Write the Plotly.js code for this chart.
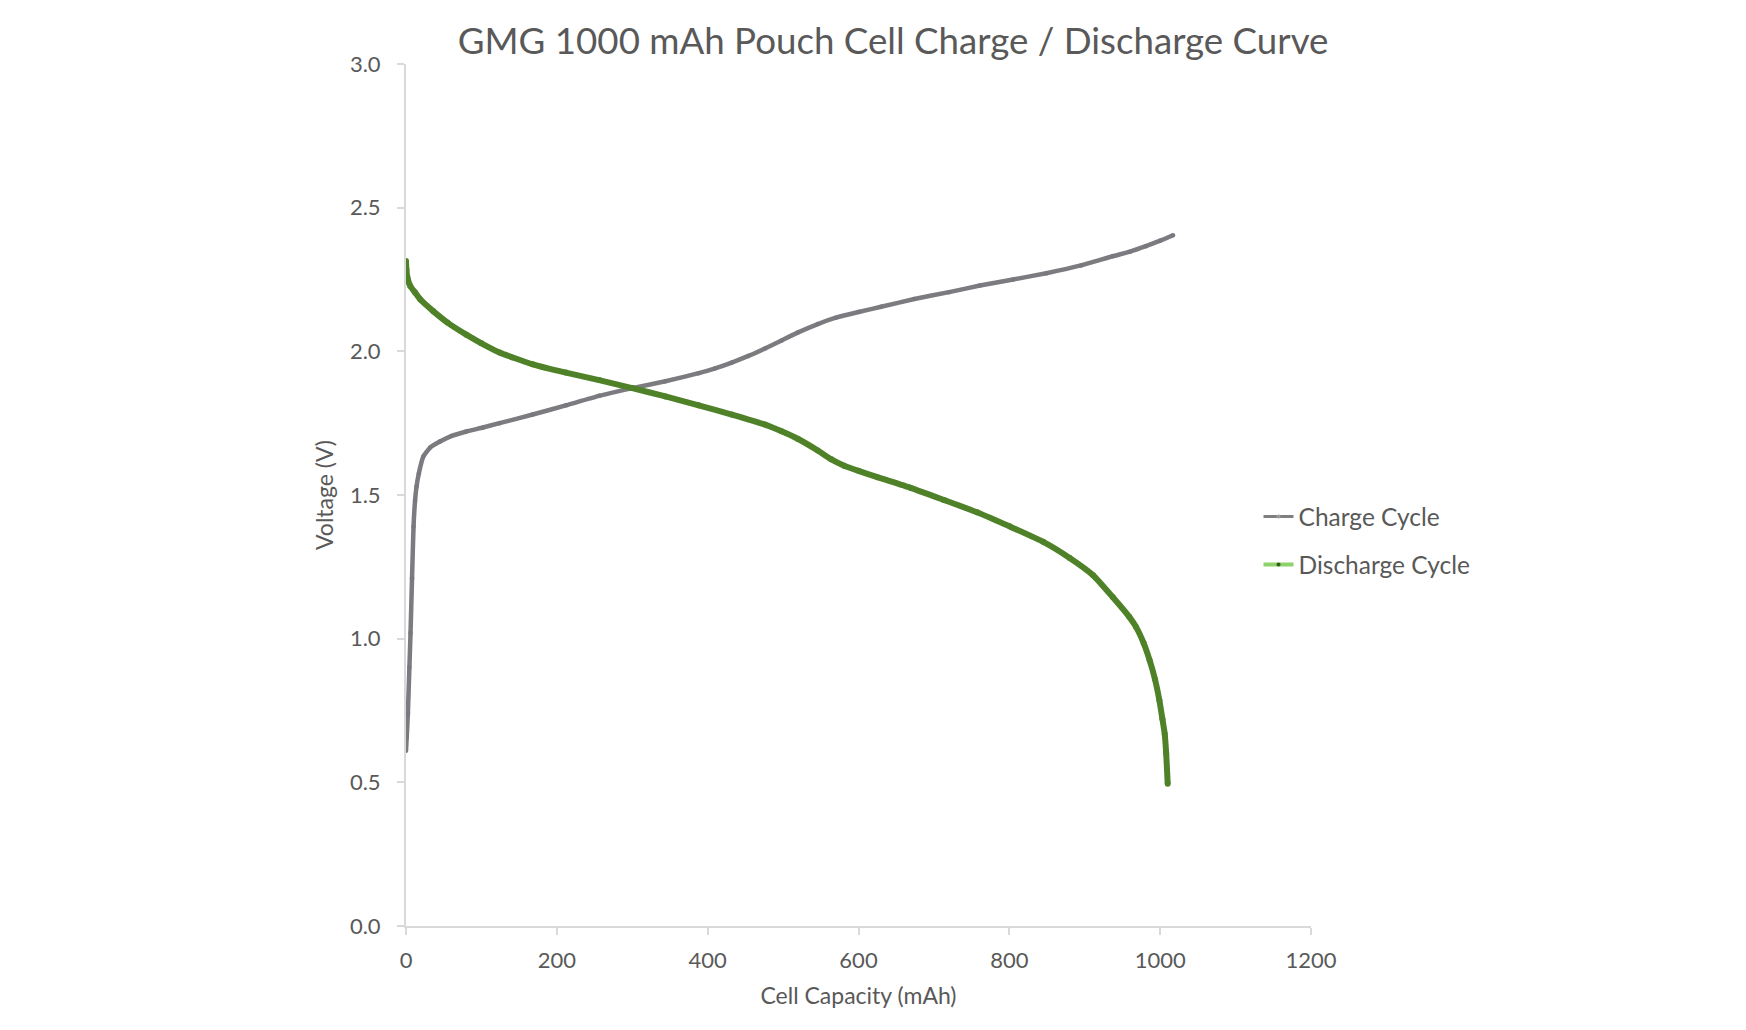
<!DOCTYPE html>
<html>
<head>
<meta charset="utf-8">
<script src="https://cdn.plot.ly/plotly-3.0.1.min.js"></script>
<style>html,body{margin:0;padding:0;background:#fff;}</style>
</head>
<body>
<div id="chart" style="width:1746px;height:1030px;"></div>
<script>
// Charge cycle: capacity (mAh) vs voltage (V)
const chargeCapacity = [0, 1, 2.5, 4.5, 6, 8, 10, 12, 14, 17, 23, 32, 45, 60, 80, 102, 124, 168, 212, 256, 300, 344, 388, 410, 432, 454, 476, 498, 520, 546, 570, 600, 630, 674, 720, 761, 805, 849, 895, 937, 960, 981, 1000, 1017];
const chargeVoltage  = [0.61, 0.66, 0.74, 0.90, 1.02, 1.21, 1.39, 1.48, 1.53, 1.575, 1.634, 1.665, 1.686, 1.705, 1.721, 1.735, 1.750, 1.780, 1.812, 1.845, 1.872, 1.896, 1.924, 1.941, 1.961, 1.984, 2.010, 2.038, 2.066, 2.095, 2.117, 2.137, 2.155, 2.182, 2.206, 2.229, 2.250, 2.272, 2.299, 2.331, 2.347, 2.366, 2.385, 2.404];

// Discharge cycle: capacity (mAh) vs voltage (V)
const dischargeCapacity = [0, 0.5, 2, 5.7, 12, 19, 36, 55, 80, 100, 124, 168, 212, 256, 300, 344, 388, 432, 476, 498, 520, 546, 564, 581, 600, 625, 669, 713, 757, 801, 845, 880, 911, 937, 959, 968, 978, 986, 993, 999, 1003, 1006, 1008, 1010];
const dischargeVoltage  = [2.314, 2.285, 2.255, 2.227, 2.205, 2.18, 2.14, 2.10, 2.058, 2.028, 1.996, 1.955, 1.926, 1.900, 1.872, 1.843, 1.812, 1.780, 1.745, 1.722, 1.695, 1.655, 1.624, 1.602, 1.584, 1.562, 1.525, 1.483, 1.440, 1.390, 1.337, 1.281, 1.221, 1.145, 1.076, 1.041, 0.985, 0.925, 0.86, 0.785, 0.72, 0.669, 0.60, 0.495];

// Axis ticks
const xTicks = [0, 200, 400, 600, 800, 1000, 1200];
const yTicks = [0, 0.5, 1.0, 1.5, 2.0, 2.5, 3.0];
const yTickLabels = ["0.0", "0.5", "1.0", "1.5", "2.0", "2.5", "3.0"];

const FONT = "Lato, 'Open Sans', sans-serif";
const TEXT = "#595959";

const traces = [
  {
    name: "Charge Cycle", x: chargeCapacity, y: chargeVoltage,
    type: "scatter", mode: "lines+markers",
    line: {color: "#7b7b80", width: 4.5, shape: "spline", smoothing: 0.5},
    marker: {color: "#77797f", size: 4.5},
    showlegend: false, legendgroup: "c", hoverinfo: "x+y"
  },
  {
    name: "Discharge Cycle", x: dischargeCapacity, y: dischargeVoltage,
    type: "scatter", mode: "lines+markers",
    line: {color: "#4f8228", width: 6, shape: "spline", smoothing: 0.5},
    marker: {color: "#4f8228", size: 6},
    showlegend: false, legendgroup: "d", hoverinfo: "x+y"
  },
  {
    name: "Charge Cycle", x: [null], y: [null],
    type: "scatter", mode: "lines+markers",
    line: {color: "#7f7f7f", width: 3},
    marker: {color: "#9a9aa0", size: 4},
    legendgroup: "c"
  },
  {
    name: "Discharge Cycle", x: [null], y: [null],
    type: "scatter", mode: "lines+markers",
    line: {color: "#8fd16a", width: 4},
    marker: {color: "#2f5f1a", size: 4},
    legendgroup: "d"
  }
];

const layout = {
  width: 1746, height: 1030,
  paper_bgcolor: "#ffffff", plot_bgcolor: "#ffffff",
  margin: {l: 406, r: 435, t: 64, b: 104},
  font: {family: FONT, color: TEXT, size: 22},
  title: {
    text: "GMG 1000 mAh Pouch Cell Charge / Discharge Curve",
    font: {family: FONT, size: 36.7, color: TEXT},
    xref: "container", yref: "container",
    x: 0.5115, xanchor: "center", y: 0.96, yanchor: "middle"
  },
  xaxis: {
    range: [0, 1200], tickvals: xTicks, ticktext: xTicks.map(String),
    showgrid: false, zeroline: false,
    showline: true, linecolor: "#d9d9d9", linewidth: 2,
    ticks: "outside", ticklen: 7, tickcolor: "#d9d9d9", tickwidth: 2,
    ticklabelstandoff: 7,
    tickfont: {family: FONT, size: 22, color: TEXT},
    title: {text: "Cell Capacity (mAh)", font: {family: FONT, size: 23, color: TEXT}, standoff: 15}
  },
  yaxis: {
    range: [0, 3.0], tickvals: yTicks, ticktext: yTickLabels,
    showgrid: false, zeroline: false,
    showline: true, linecolor: "#d9d9d9", linewidth: 2,
    ticks: "outside", ticklen: 7, tickcolor: "#d9d9d9", tickwidth: 2,
    ticklabelstandoff: 12,
    tickfont: {family: FONT, size: 22, color: TEXT},
    title: {text: "Voltage (V)", font: {family: FONT, size: 23, color: TEXT}, standoff: 10}
  },
  legend: {
    x: 0.942, xanchor: "left", y: 0.447, yanchor: "middle",
    font: {family: FONT, size: 24.5, color: TEXT},
    bgcolor: "rgba(0,0,0,0)", traceorder: "grouped", tracegroupgap: 13,
    itemwidth: 30
  },
  showlegend: true
};

Plotly.newPlot("chart", traces, layout, {displayModeBar: false, staticPlot: true});
</script>
</body>
</html>
